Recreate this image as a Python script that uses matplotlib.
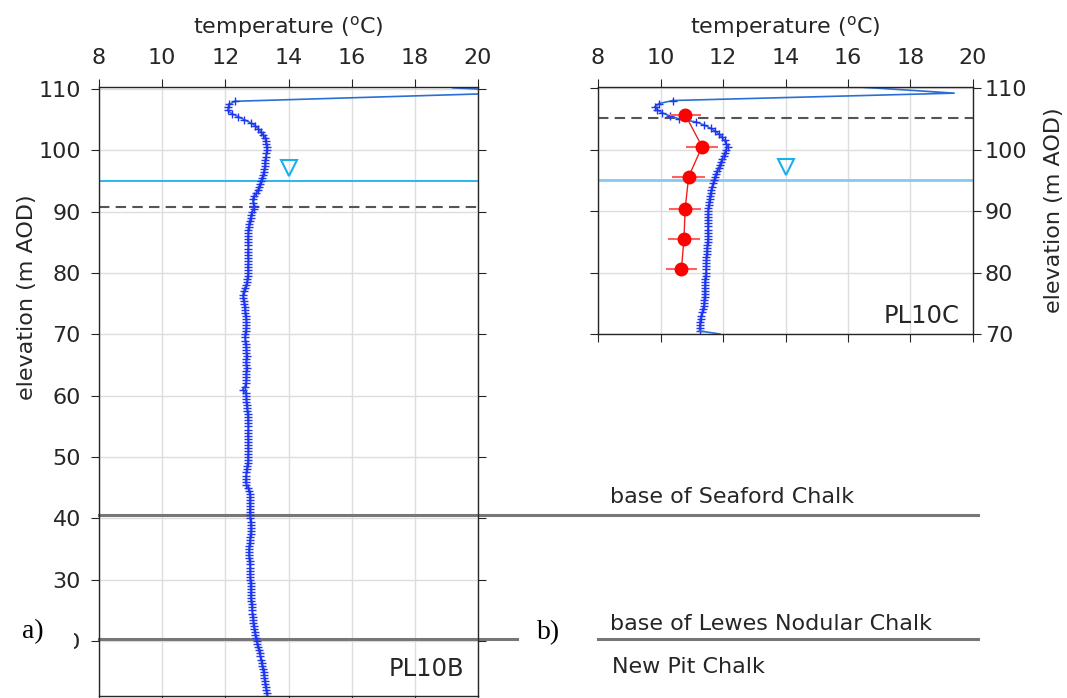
import numpy as np
import matplotlib
matplotlib.use("Agg")
import matplotlib.pyplot as plt
from matplotlib.patches import Rectangle

plt.rcParams['font.family'] = ['DejaVu Sans']

# PL10B temperature log (0.5 m sampling)
b_top_elev = [110.2, 109.5]
b_top_temp = [19.2, 22.0]
b_elev = np.arange(108.0, 10.9, -0.5)
b_temp = [12.30, 12.13, 12.10, 12.08, 12.20, 12.40, 12.60, 12.80, 12.95, 13.05,
          13.12, 13.20, 13.27, 13.28, 13.30, 13.32, 13.32, 13.30, 13.28, 13.27,
          13.25, 13.26, 13.24, 13.22, 13.20, 13.16, 13.14, 13.10, 13.06, 13.03,
          12.98, 12.90, 12.87, 12.88, 12.92, 12.90, 12.85, 12.82, 12.80, 12.77,
          12.75, 12.74, 12.72, 12.73, 12.72, 12.71, 12.72, 12.73, 12.72, 12.72,
          12.71, 12.72, 12.73, 12.72, 12.71, 12.72, 12.72, 12.71, 12.70, 12.69,
          12.67, 12.62, 12.58, 12.56, 12.57, 12.58, 12.60, 12.62, 12.62, 12.63,
          12.64, 12.66, 12.67, 12.67, 12.66, 12.65, 12.63, 12.62, 12.63, 12.64,
          12.66, 12.67, 12.67, 12.68, 12.67, 12.66, 12.67, 12.68, 12.67, 12.66,
          12.67, 12.66, 12.65, 12.62, 12.55, 12.64, 12.66, 12.67, 12.67, 12.68,
          12.69, 12.70, 12.71, 12.71, 12.72, 12.72, 12.73, 12.72, 12.72, 12.71,
          12.72, 12.73, 12.72, 12.72, 12.73, 12.72, 12.71, 12.72, 12.71, 12.69,
          12.68, 12.67, 12.66, 12.65, 12.64, 12.67, 12.72, 12.76, 12.78, 12.78,
          12.77, 12.77, 12.78, 12.78, 12.77, 12.78, 12.79, 12.80, 12.80, 12.81,
          12.80, 12.80, 12.79, 12.78, 12.77, 12.76, 12.75, 12.75, 12.75, 12.76,
          12.77, 12.77, 12.78, 12.78, 12.78, 12.79, 12.79, 12.80, 12.80, 12.80,
          12.81, 12.80, 12.81, 12.82, 12.83, 12.84, 12.85, 12.86, 12.87, 12.88,
          12.89, 12.90, 12.92, 12.93, 12.95, 12.97, 12.99, 13.01, 13.04, 13.07,
          13.09, 13.11, 13.13, 13.15, 13.17, 13.19, 13.21, 13.22, 13.24, 13.25,
          13.26, 13.28, 13.30, 13.31, 13.33]

# PL10C temperature log
c_top_elev = [110.15, 109.7, 109.2]
c_top_temp = [16.5, 17.9, 19.4]
c_elev = np.arange(108.0, 70.4, -0.5)
c_temp = [10.40, 9.95, 9.82, 9.90, 10.05, 10.30, 10.60, 11.15, 11.40, 11.60,
          11.75, 11.88, 11.97, 12.05, 12.10, 12.15, 12.10, 12.06, 12.02, 11.98,
          11.94, 11.90, 11.86, 11.82, 11.78, 11.74, 11.72, 11.68, 11.65, 11.63,
          11.61, 11.59, 11.57, 11.56, 11.55, 11.53, 11.52, 11.52, 11.51, 11.51,
          11.52, 11.52, 11.51, 11.51, 11.52, 11.52, 11.51, 11.50, 11.49, 11.48,
          11.48, 11.47, 11.47, 11.47, 11.46, 11.46, 11.45, 11.44, 11.43, 11.42,
          11.42, 11.42, 11.41, 11.41, 11.41, 11.40, 11.40, 11.38, 11.36, 11.34,
          11.30, 11.28, 11.27, 11.26, 11.25, 11.25]
c_bot_elev = [70.0]
c_bot_temp = [11.9]

# red samples with error bars in PL10C
s_elev = [105.7, 100.5, 95.6, 90.4, 85.5, 80.5]
s_temp = [10.79, 11.33, 10.90, 10.79, 10.75, 10.67]
s_err = [0.5, 0.52, 0.52, 0.52, 0.52, 0.5]

water_level = 95.0
b_dash = 90.7
c_dash = 105.2
seaford = 40.6
lewes = 20.4

W, H = 1067, 698
fig = plt.figure(figsize=(W / 100, H / 100), dpi=100)
ax1 = fig.add_axes([99 / W, 1 - 696 / H, 379 / W, 609 / H])
ax2 = fig.add_axes([598 / W, 1 - 334 / H, 375 / W, 247 / H])

blue_line = '#2a6fd6'
blue_mark = '#2035f0'
txt = '#262626'

for ax in (ax1, ax2):
    ax.set_xlim(8, 20)
    ax.set_xticks([8, 10, 12, 14, 16, 18, 20])
    ax.grid(True, color='#dddddd', lw=1)
    ax.set_axisbelow(True)
    ax.xaxis.tick_top()
    ax.xaxis.set_label_position('top')
    ax.tick_params(axis='both', which='both', direction='out', length=6,
                   labelsize=16, colors=txt, top=True, bottom=True,
                   left=True, right=True)
    ax.tick_params(axis='x', pad=8)
    ax.set_xlabel('temperature ($^{\\rm o}$C)', fontsize=16, color=txt, labelpad=10)
    for s in ax.spines.values():
        s.set_color(txt)
        s.set_linewidth(1)
    ax.plot(14, 97.2, marker='v', ms=12, mfc='none', mec='#1ab0ee', mew=1.5, ls='none')

# left panel
ax1.set_ylim(11.06, 110.33)
ax1.set_yticks([20, 30, 40, 50, 60, 70, 80, 90, 100, 110])
ax1.tick_params(labelbottom=False, labelleft=True, labelright=False)
ax1.tick_params(axis='y', pad=7)
ax1.axhline(water_level, color='#18b0f0', lw=1.3)
ax1.axhline(b_dash, color='#555555', lw=1.5, ls=(0, (5, 3)))
ax1.axhline(seaford, xmin=0, xmax=(978 - 99) / 379, color='#777777', lw=2.2, clip_on=False)
ax1.axhline(lewes, xmin=0, xmax=(517 - 99) / 379, color='#777777', lw=2.2, clip_on=False)
ax1.axhline(lewes, xmin=(598 - 99) / 379, xmax=(978 - 99) / 379, color='#777777', lw=2.2, clip_on=False)
ax1.plot(b_top_temp + [b_temp[0]], b_top_elev + [b_elev[0]], color=blue_line, lw=1.2)
ax1.plot(b_temp, b_elev, color=blue_line, lw=1.2, marker='+', ms=6, mec=blue_mark, mew=1)
ax1.text(0.965, 0.025, 'PL10B', transform=ax1.transAxes, ha='right', va='bottom',
         fontsize=17.5, color=txt)
ax1.set_ylabel('elevation (m AOD)', fontsize=16, color=txt)
ax1.yaxis.set_label_coords(-0.164, 0.655)

# right panel
ax2.set_ylim(70, 110.2)
ax2.set_yticks([70, 80, 90, 100, 110])
ax2.tick_params(labelbottom=False, labelleft=False, labelright=True)
ax2.tick_params(axis='y', pad=2.5)
ax2.yaxis.set_label_position('right')
ax2.axhline(water_level, color='#86c8f0', lw=2)
ax2.axhline(c_dash, color='#555555', lw=1.5, ls=(0, (5, 3)))
ax2.plot(c_top_temp + [c_temp[0]], c_top_elev + [c_elev[0]], color=blue_line, lw=1.2)
ax2.plot(c_temp, c_elev, color=blue_line, lw=1.2, marker='+', ms=6, mec=blue_mark, mew=1)
ax2.plot([c_temp[-1]] + c_bot_temp, [c_elev[-1]] + c_bot_elev, color=blue_line, lw=1.2)
ax2.errorbar(s_temp, s_elev, xerr=s_err, color='#f02020', lw=1, ecolor='#ff6060',
             elinewidth=1.5, capsize=0, marker='o', ms=9, mfc='#ff0000', mec='#ff0000', zorder=5)
ax2.text(0.965, 0.025, 'PL10C', transform=ax2.transAxes, ha='right', va='bottom',
         fontsize=17.5, color=txt)
ax2.set_ylabel('elevation (m AOD)', fontsize=16, color=txt, labelpad=12)

# annotations
fig.text(610 / W, 1 - 497 / H, 'base of Seaford Chalk', fontsize=16,
         va='center', color=txt)
fig.text(610 / W, 1 - 624 / H, 'base of Lewes Nodular Chalk', fontsize=16,
         va='center', color=txt)
fig.text(612 / W, 1 - 667 / H, 'New Pit Chalk', fontsize=16,
         va='center', color=txt)

fig.patches.append(Rectangle((0, 1 - 656 / H), 74 / W, 34 / H, transform=fig.transFigure,
                             facecolor='white', edgecolor='none', zorder=10))
fig.text(22 / W, 1 - 632 / H, 'a)', family=['Liberation Serif', 'DejaVu Serif'], fontsize=20,
         va='center', zorder=11)
fig.text(537 / W, 1 - 633 / H, 'b)', family=['Liberation Serif', 'DejaVu Serif'], fontsize=20,
         va='center', zorder=11)

fig.savefig('out.png', dpi=100)
